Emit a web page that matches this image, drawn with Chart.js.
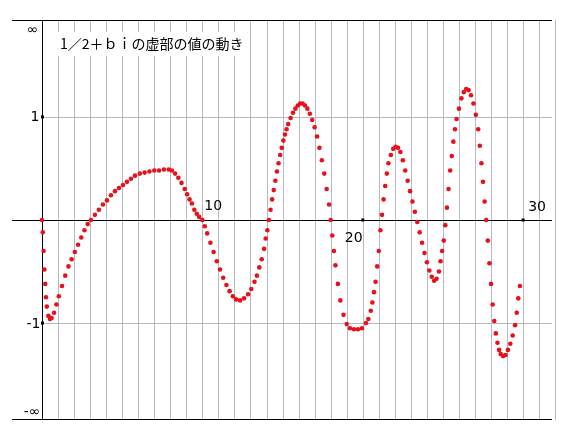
<!DOCTYPE html>
<html>
<head>
<meta charset="utf-8">
<script src="https://cdn.jsdelivr.net/npm/chart.js@4"></script>
<style>body{margin:0;background:#fff}</style>
</head>
<body>
<canvas id="myChart" width="578" height="444"></canvas>
<script>
// b values and imaginary part
let bValues = [0, 0.05, 0.1, 0.15, 0.2, 0.25, 0.3, 0.4, 0.5, 0.6, 0.75, 0.9, 1.05, 1.25, 1.45, 1.65, 1.85, 2.05, 2.25, 2.45, 2.65, 2.85, 3.05, 3.3, 3.55, 3.8, 4.05, 4.3, 4.55, 4.8, 5.05, 5.3, 5.55, 5.8, 6.1, 6.4, 6.7, 7.0, 7.3, 7.6, 7.9, 8.1, 8.3, 8.5, 8.7, 8.9, 9.05, 9.2, 9.35, 9.5, 9.65, 9.8, 10.0, 10.15, 10.3, 10.5, 10.7, 10.9, 11.1, 11.3, 11.5, 11.7, 11.9, 12.1, 12.35, 12.6, 12.85, 13.05, 13.25, 13.4, 13.55, 13.7, 13.85, 13.95, 14.05, 14.15, 14.25, 14.35, 14.45, 14.55, 14.65, 14.75, 14.85, 14.95, 15.05, 15.15, 15.25, 15.35, 15.5, 15.65, 15.8, 15.95, 16.1, 16.25, 16.4, 16.55, 16.7, 16.85, 17.0, 17.15, 17.3, 17.45, 17.6, 17.75, 17.9, 18.0, 18.1, 18.2, 18.3, 18.45, 18.6, 18.8, 19.0, 19.2, 19.45, 19.7, 19.95, 20.2, 20.35, 20.5, 20.6, 20.7, 20.8, 20.9, 21.0, 21.1, 21.2, 21.3, 21.4, 21.5, 21.6, 21.75, 21.9, 22.05, 22.2, 22.35, 22.5, 22.65, 22.8, 22.95, 23.1, 23.25, 23.4, 23.55, 23.7, 23.85, 24.0, 24.15, 24.3, 24.45, 24.6, 24.75, 24.85, 24.95, 25.05, 25.15, 25.25, 25.35, 25.45, 25.55, 25.65, 25.75, 25.85, 26.0, 26.15, 26.3, 26.45, 26.6, 26.75, 26.9, 27.05, 27.2, 27.3, 27.4, 27.5, 27.6, 27.7, 27.8, 27.9, 28.0, 28.1, 28.2, 28.3, 28.4, 28.5, 28.6, 28.75, 28.9, 29.05, 29.2, 29.35, 29.5, 29.6, 29.7, 29.8, 29.9, 30.0, 30.05];
let imagValues = [0, -0.12, -0.3, -0.48, -0.62, -0.75, -0.84, -0.93, -0.96, -0.95, -0.9, -0.82, -0.74, -0.64, -0.54, -0.45, -0.38, -0.31, -0.24, -0.17, -0.1, -0.04, 0.0, 0.05, 0.1, 0.15, 0.19, 0.24, 0.28, 0.31, 0.34, 0.37, 0.4, 0.43, 0.45, 0.46, 0.47, 0.48, 0.48, 0.49, 0.49, 0.48, 0.45, 0.41, 0.36, 0.3, 0.25, 0.2, 0.16, 0.1, 0.06, 0.03, 0.0, -0.06, -0.13, -0.22, -0.31, -0.4, -0.48, -0.56, -0.63, -0.69, -0.74, -0.77, -0.78, -0.76, -0.72, -0.67, -0.6, -0.54, -0.46, -0.38, -0.28, -0.18, -0.1, 0.0, 0.1, 0.2, 0.29, 0.38, 0.47, 0.55, 0.63, 0.7, 0.77, 0.83, 0.88, 0.93, 0.99, 1.04, 1.08, 1.11, 1.13, 1.13, 1.11, 1.08, 1.03, 0.97, 0.9, 0.81, 0.7, 0.58, 0.45, 0.3, 0.15, 0.0, -0.15, -0.3, -0.44, -0.62, -0.78, -0.92, -1.01, -1.05, -1.06, -1.06, -1.05, -1.0, -0.96, -0.88, -0.8, -0.7, -0.6, -0.45, -0.3, -0.1, 0.05, 0.2, 0.33, 0.45, 0.55, 0.63, 0.69, 0.71, 0.7, 0.66, 0.58, 0.48, 0.38, 0.28, 0.18, 0.08, -0.02, -0.12, -0.22, -0.32, -0.41, -0.49, -0.55, -0.59, -0.57, -0.5, -0.4, -0.3, -0.2, -0.05, 0.12, 0.3, 0.48, 0.62, 0.76, 0.88, 0.98, 1.08, 1.18, 1.24, 1.27, 1.26, 1.21, 1.13, 1.02, 0.88, 0.72, 0.55, 0.37, 0.18, 0.0, -0.2, -0.42, -0.62, -0.82, -0.98, -1.1, -1.19, -1.26, -1.3, -1.32, -1.31, -1.26, -1.2, -1.12, -1.02, -0.9, -0.76, -0.64];
let yMarks = [1, 0, -1];
let yLabels = ["∞", "1", "-1", "-∞"];
let xLabels = ["10", "20", "30"];
let title = "1／2＋ｂｉの虚部の値の動き";

let points = bValues.map(function (b, i) {
  return { x: b, y: imagValues[i] };
});

const gridPlugin = {
  id: "grid",
  beforeDatasetsDraw(chart) {
    const c = chart.ctx;
    const xs = chart.scales.x;
    const ys = chart.scales.y;
    const a = chart.chartArea;
    c.save();
    // vertical grey lines, one per unit
    c.strokeStyle = "#b8b8c0";
    c.lineWidth = 1;
    for (let i = 1; i <= 32; i++) {
      const px = Math.round(xs.getPixelForValue(i)) + 0.5;
      c.beginPath();
      c.moveTo(px, a.top);
      c.lineTo(px, a.bottom);
      c.stroke();
    }
    // horizontal lines at 1 and -1
    [1, -1].forEach(function (v) {
      const py = Math.round(ys.getPixelForValue(v)) + 0.5;
      c.beginPath();
      c.moveTo(xs.getPixelForValue(0), py);
      c.lineTo(a.right, py);
      c.stroke();
    });
    // black frame lines
    c.strokeStyle = "#000";
    [a.top + 0.5, Math.round(ys.getPixelForValue(0)) + 0.5, a.bottom - 0.5].forEach(function (py) {
      c.beginPath();
      c.moveTo(a.left, py);
      c.lineTo(a.right, py);
      c.stroke();
    });
    const x0 = Math.round(xs.getPixelForValue(0)) + 0.5;
    c.beginPath();
    c.moveTo(x0, a.top);
    c.lineTo(x0, a.bottom);
    c.stroke();

    // tick dots
    c.fillStyle = "#000";
    [10, 20, 30].forEach(function (v) {
      c.fillRect(xs.getPixelForValue(v) - 1.5, ys.getPixelForValue(0) - 1.5, 3, 3);
    });
    yMarks.forEach(function (v) {
      if (v !== 0) c.fillRect(x0 - 1.5, ys.getPixelForValue(v) - 1.5, 3, 3);
    });

    // labels
    c.font = "14px 'DejaVu Sans'";
    c.textBaseline = "middle";
    c.textAlign = "right";
    c.fillText(yLabels[0], x0 - 4, a.top + 10);
    c.fillText(yLabels[1], x0 - 3, ys.getPixelForValue(1));
    c.fillText(yLabels[2], x0 - 2, ys.getPixelForValue(-1) + 1);
    c.fillText(yLabels[3], x0 - 2, a.bottom - 8);
    c.textAlign = "left";
    const y0 = ys.getPixelForValue(0);
    c.fillText(xLabels[0], xs.getPixelForValue(10) + 2, y0 - 14);
    c.fillText(xLabels[1], xs.getPixelForValue(20) - 18, y0 + 18);
    c.fillText(xLabels[2], xs.getPixelForValue(30) + 5, y0 - 13);

    // title with white box
    c.font = "14px 'Noto Sans CJK JP'";
    const w = c.measureText(title).width;
    c.fillStyle = "#fff";
    c.fillRect(56, 32, w + 8, 24);
    c.fillStyle = "#000";
    c.fillText(title, 60, 44);
    c.restore();
  },
};

const ctx = document.getElementById("myChart");
const myChart = new Chart(ctx, {
  type: "scatter",
  data: {
    datasets: [
      {
        data: points,
        backgroundColor: "#e8101a",
        borderWidth: 0,
        pointRadius: 2.3,
      },
    ],
  },
  options: {
    responsive: false,
    animation: false,
    layout: { padding: { left: 12, right: 26, top: 20, bottom: 24 } },
    plugins: { legend: { display: false }, tooltip: { enabled: false } },
    scales: {
      x: { type: "linear", min: -1.87, max: 31.8, display: false },
      y: { type: "linear", min: -1.94, max: 1.94, display: false },
    },
  },
  plugins: [gridPlugin],
});
</script>
</body>
</html>
